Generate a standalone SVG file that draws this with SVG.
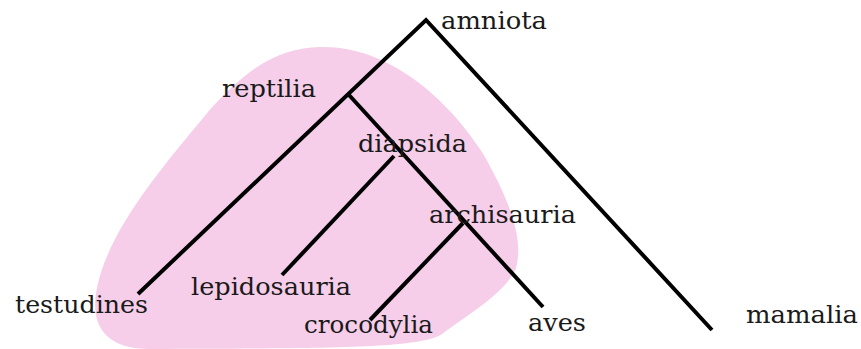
<svg xmlns="http://www.w3.org/2000/svg" width="861" height="349" viewBox="0 0 861 349">
<style>
.e{stroke:#000;stroke-width:4;fill:none;stroke-linecap:butt}
text{font-family:'DejaVu Serif',serif;font-size:25px;fill:#1a1a1a}
</style>
<rect width="861" height="349" fill="#fff"/>
<path id="blob" d="M320 47 C385 45 445 95 482 152 C510 200 524 240 516 268 C506 292 472 312 442 334 C420 350 300 348 150 349 C102 349 90 322 97 288 C108 232 158 172 208 112 C250 64 282 48 320 47 Z" fill="#f6cee9"/>
<g id="connectors">
<polyline class="e" points="138,294 426,20 712,330"/>
<polyline class="e" points="349,95 543,307"/>
<line class="e" x1="394" y1="156" x2="282" y2="275"/>
<line class="e" x1="463" y1="223" x2="370" y2="320"/>
</g>
<g id="amniota"><text x="441" y="29" textLength="106" lengthAdjust="spacingAndGlyphs">amniota</text></g>
<g id="reptilia"><text x="222" y="97" textLength="94" lengthAdjust="spacingAndGlyphs">reptilia</text></g>
<g id="diapsida"><text x="358" y="152" textLength="109" lengthAdjust="spacingAndGlyphs">diapsida</text></g>
<g id="archisauria"><text x="429" y="223" textLength="147" lengthAdjust="spacingAndGlyphs">archisauria</text></g>
<g id="testudines"><text x="15" y="313" textLength="133" lengthAdjust="spacingAndGlyphs">testudines</text></g>
<g id="lepidosauria"><text x="191" y="295" textLength="160" lengthAdjust="spacingAndGlyphs">lepidosauria</text></g>
<g id="crocodylia"><text x="304" y="333" textLength="129" lengthAdjust="spacingAndGlyphs">crocodylia</text></g>
<g id="aves"><text x="528" y="331" textLength="58" lengthAdjust="spacingAndGlyphs">aves</text></g>
<g id="mamalia"><text x="746" y="323" textLength="112" lengthAdjust="spacingAndGlyphs">mamalia</text></g>
</svg>
